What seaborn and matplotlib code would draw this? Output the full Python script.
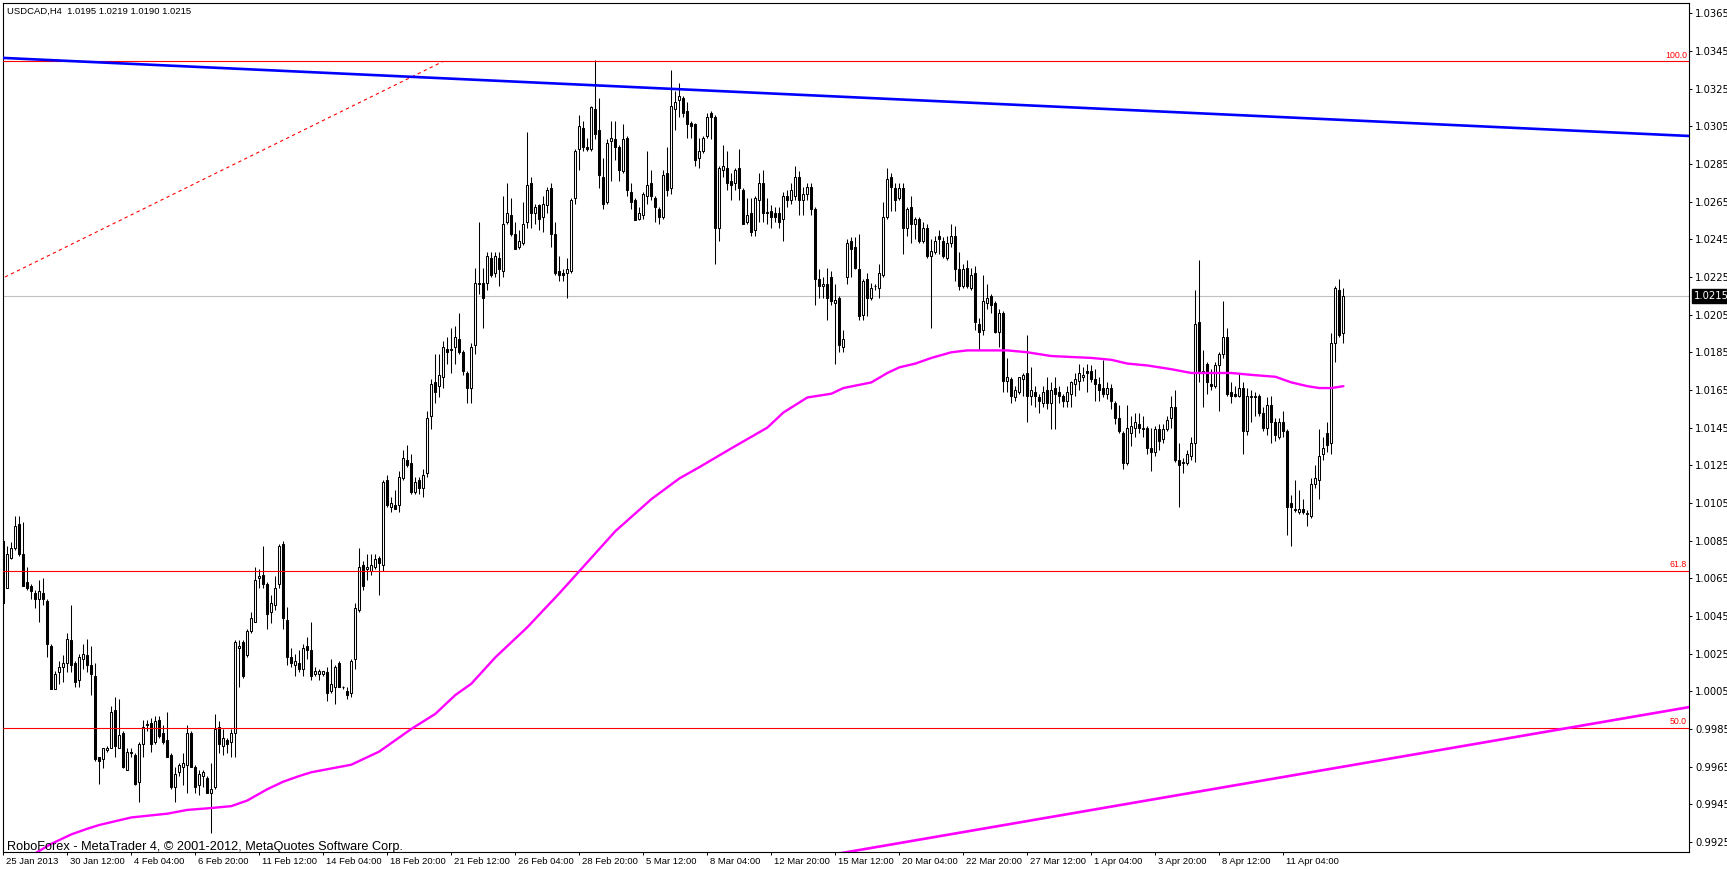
import numpy as np
import pandas as pd
import matplotlib
matplotlib.use("Agg")
import matplotlib.pyplot as plt
import matplotlib.transforms as mtransforms
import seaborn as sns

sns.set_style("white")
plt.rcParams['font.family'] = ['DejaVu Sans']

title = "USDCAD,H4  1.0195 1.0219 1.0190 1.0215"
footer = "RoboForex - MetaTrader 4, \u00a9 2001-2012, MetaQuotes Software Corp."

# H4 bars, quotes in pips above 1.0000
open_pips = [
    85, 60, 76, 81, 94, 78, 63, 61, 57, 54, 57, 53,
    29, 6, 15, 18, 20, 32, 20, 11, 22, 24, 19, 13,
    -30, -31, -26, -25, -5, -25, -17, -37, -27, -29, -43, -23,
    -13, -12, -22, -10, -17, -21, -29, -46, -38, -35, -34, -17,
    -35, -45, -40, -41, -49, -46, -14, -24, -21, -22, -17, 28,
    31, 24, 37, 42, 65, 67, 62, 47, 51, 62, 83, 43,
    23, 19, 20, 17, 29, 27, 14, 14, 14, 15, 5, 7,
    20, 7, 5, 4, 22, 48, 72, 70, 69, 71, 76, 72,
    117, 103, 104, 104, 118, 128, 126, 111, 117, 113, 121, 151,
    169, 167, 172, 187, 186, 188, 192, 185, 174, 166, 189, 222,
    222, 222, 235, 227, 235, 228, 254, 258, 248, 241, 243, 254,
    275, 259, 263, 257, 263, 272, 248, 228, 227, 227, 228, 267,
    293, 304, 294, 293, 314, 303, 278, 265, 297, 298, 294, 281,
    299, 270, 266, 256, 258, 268, 275, 267, 261, 257, 280, 272,
    314, 319, 320, 313, 307, 306, 288, 292, 300, 312, 310, 251,
    282, 283, 276, 275, 283, 271, 254, 259, 250, 266, 275, 259,
    260, 259, 259, 256, 268, 266, 268, 278, 266, 269, 273, 261,
    224, 220, 221, 225, 211, 214, 188, 225, 244, 241, 229, 205,
    224, 214, 220, 219, 226, 257, 278, 272, 267, 272, 251, 262,
    253, 256, 244, 251, 236, 238, 247, 244, 235, 243, 247, 229,
    220, 230, 219, 227, 200, 197, 211, 215, 211, 196, 206, 170,
    171, 161, 164, 171, 174, 162, 164, 161, 158, 165, 158, 166,
    164, 162, 159, 163, 168, 170, 172, 175, 175, 171, 168, 166,
    163, 166, 158, 150, 142, 126, 142, 145, 147, 144, 145, 134,
    132, 144, 139, 144, 150, 156, 128, 126, 126, 130, 137, 201,
    174, 179, 168, 167, 178, 184, 193, 164, 163, 162, 166, 143,
    161, 161, 162, 153, 145, 157, 148, 140, 148, 143, 105, 102,
    100, 102, 99, 98, 115, 117, 131, 142, 137, 190, 218, 195,
]
high_pips = [
    86, 82, 84, 98, 98, 95, 71, 62, 59, 64, 65, 54,
    30, 16, 21, 24, 36, 51, 21, 25, 30, 33, 29, 20,
    -30, -25, -24, -3, 2, 1, -16, -25, -25, -28, -22, -10,
    -10, -9, -8, -8, -13, -6, -28, -35, -33, -28, -13, -16,
    -34, -37, -37, -40, -33, -7, -11, -15, -20, -15, 32, 32,
    32, 38, 47, 71, 70, 82, 63, 56, 66, 83, 85, 50,
    28, 25, 27, 30, 34, 42, 18, 17, 16, 18, 22, 19,
    21, 8, 7, 22, 52, 81, 74, 78, 78, 78, 77, 117,
    120, 108, 112, 122, 133, 136, 131, 119, 119, 123, 154, 171,
    184, 184, 191, 193, 198, 199, 206, 186, 175, 190, 230, 254,
    230, 238, 238, 238, 238, 268, 275, 267, 254, 250, 265, 302,
    278, 264, 264, 268, 273, 275, 254, 236, 229, 235, 267, 293,
    311, 308, 299, 316, 340, 320, 288, 298, 308, 308, 295, 306,
    300, 275, 267, 262, 270, 292, 282, 268, 262, 282, 294, 335,
    324, 328, 321, 318, 308, 307, 299, 300, 312, 313, 311, 284,
    295, 292, 280, 283, 293, 272, 267, 267, 268, 280, 282, 267,
    263, 262, 262, 270, 271, 275, 284, 281, 273, 275, 275, 262,
    229, 225, 230, 228, 221, 215, 197, 245, 246, 246, 248, 224,
    227, 222, 221, 232, 265, 283, 280, 275, 275, 275, 262, 268,
    257, 257, 254, 253, 245, 247, 250, 246, 247, 253, 252, 238,
    232, 234, 230, 231, 203, 226, 221, 216, 212, 208, 207, 182,
    172, 167, 172, 174, 194, 177, 167, 163, 167, 172, 169, 172,
    167, 163, 167, 170, 174, 179, 177, 179, 178, 176, 172, 181,
    169, 168, 159, 157, 143, 157, 151, 153, 153, 151, 146, 145,
    146, 147, 147, 151, 162, 165, 137, 129, 133, 140, 218, 234,
    186, 180, 176, 180, 185, 212, 198, 169, 167, 174, 169, 166,
    165, 164, 163, 156, 161, 162, 150, 150, 154, 144, 109, 117,
    112, 107, 101, 118, 125, 144, 140, 148, 195, 220, 224, 219,
]
low_pips = [
    51, 60, 75, 80, 77, 61, 59, 54, 49, 42, 51, 23,
    6, 6, 9, 10, 15, 15, 7, 7, 17, 15, 3, -32,
    -44, -36, -27, -25, -30, -25, -36, -37, -30, -45, -54, -30,
    -16, -27, -23, -20, -23, -30, -47, -54, -40, -45, -49, -35,
    -49, -50, -46, -49, -70, -47, -28, -29, -28, -30, -30, 7,
    12, 23, 36, 42, 60, 60, 38, 41, 48, 60, 38, 19,
    18, 13, 15, 13, 22, 11, 13, 11, 13, 0, 4, -2,
    7, 6, 1, 2, 17, 47, 59, 64, 67, 70, 56, 69,
    103, 100, 102, 100, 117, 124, 110, 110, 110, 108, 119, 144,
    158, 161, 166, 179, 174, 179, 184, 173, 158, 158, 184, 216,
    198, 218, 225, 225, 220, 225, 253, 247, 240, 240, 242, 251,
    251, 253, 250, 249, 259, 241, 226, 223, 223, 214, 227, 264,
    282, 292, 292, 292, 298, 272, 261, 264, 276, 287, 276, 280,
    268, 261, 255, 255, 256, 264, 266, 254, 253, 256, 268, 269,
    303, 310, 310, 299, 299, 284, 283, 291, 299, 298, 232, 244,
    278, 271, 266, 271, 266, 253, 253, 247, 247, 254, 254, 253,
    251, 254, 251, 244, 262, 264, 266, 258, 258, 266, 258, 210,
    214, 214, 202, 210, 179, 185, 185, 221, 225, 229, 202, 202,
    204, 213, 218, 214, 225, 256, 260, 260, 266, 237, 247, 243,
    245, 243, 243, 235, 198, 237, 237, 235, 234, 241, 223, 218,
    219, 219, 218, 197, 186, 194, 208, 206, 195, 188, 164, 164,
    158, 159, 163, 162, 148, 157, 156, 153, 156, 155, 144, 144,
    158, 156, 156, 156, 162, 165, 170, 164, 169, 159, 159, 161,
    160, 155, 147, 142, 123, 125, 135, 140, 142, 140, 131, 122,
    130, 133, 137, 143, 145, 127, 103, 121, 125, 128, 127, 169,
    156, 163, 165, 166, 154, 182, 162, 158, 161, 161, 131, 141,
    148, 151, 151, 143, 141, 137, 138, 139, 140, 88, 82, 100,
    99, 99, 93, 97, 113, 107, 128, 132, 131, 180, 193, 190,
]
close_pips = [
    52, 78, 81, 93, 78, 61, 60, 58, 54, 58, 54, 30,
    6, 14, 18, 20, 33, 19, 10, 23, 25, 19, 14, -31,
    -32, -25, -25, -6, -24, -18, -35, -27, -28, -44, -23, -14,
    -13, -23, -11, -19, -22, -30, -46, -39, -34, -33, -17, -35,
    -46, -39, -38, -49, -47, -15, -23, -20, -23, -17, 31, 29,
    13, 37, 44, 64, 66, 62, 46, 52, 60, 82, 44, 23,
    20, 21, 17, 28, 27, 13, 16, 16, 16, 4, 9, 18,
    7, 7, 3, 21, 49, 71, 61, 71, 72, 75, 73, 116,
    104, 105, 102, 119, 129, 125, 111, 116, 113, 120, 150, 168,
    164, 173, 188, 185, 187, 193, 185, 175, 166, 188, 222, 221,
    214, 236, 226, 236, 229, 253, 259, 248, 240, 244, 253, 274,
    259, 262, 256, 264, 271, 248, 227, 226, 226, 229, 266, 292,
    305, 294, 293, 315, 301, 279, 264, 296, 299, 294, 282, 298,
    271, 265, 255, 259, 269, 274, 268, 262, 257, 279, 271, 316,
    318, 321, 312, 306, 305, 287, 292, 299, 310, 310, 251, 283,
    284, 275, 274, 282, 272, 253, 258, 249, 267, 275, 259, 259,
    257, 257, 254, 268, 266, 271, 278, 266, 269, 273, 261, 224,
    220, 221, 214, 212, 213, 189, 192, 243, 240, 230, 204, 223,
    214, 219, 220, 227, 257, 277, 273, 266, 272, 251, 261, 253,
    256, 244, 251, 236, 239, 244, 245, 236, 243, 247, 229, 220,
    229, 220, 226, 201, 196, 212, 214, 210, 196, 206, 170, 172,
    162, 165, 172, 173, 162, 165, 162, 159, 164, 158, 165, 163,
    162, 159, 164, 169, 171, 174, 173, 174, 171, 168, 165, 163,
    166, 159, 150, 143, 126, 145, 146, 148, 145, 145, 134, 132,
    144, 138, 144, 149, 156, 128, 125, 127, 131, 137, 200, 175,
    175, 169, 167, 178, 184, 193, 163, 162, 162, 166, 143, 162,
    162, 162, 153, 145, 157, 148, 141, 148, 143, 103, 103, 101,
    102, 100, 99, 115, 118, 130, 134, 136, 190, 219, 194, 215,
]

# time axis: one label every 16 bars
time_labels = ["25 Jan 2013", "30 Jan 12:00", "4 Feb 04:00", "6 Feb 20:00",
               "11 Feb 12:00", "14 Feb 04:00", "18 Feb 20:00", "21 Feb 12:00",
               "26 Feb 04:00", "28 Feb 20:00", "5 Mar 12:00", "8 Mar 04:00",
               "12 Mar 20:00", "15 Mar 12:00", "20 Mar 04:00", "22 Mar 20:00",
               "27 Mar 12:00", "1 Apr 04:00", "3 Apr 20:00", "8 Apr 12:00",
               "11 Apr 04:00"]
bars_per_label = 16

# moving average (magenta), read at these bars
ma_bars = [4, 12, 17, 21, 24, 32, 41, 46, 52, 57, 61, 66, 70, 74, 77, 87, 94,
           102, 108, 113, 117, 123, 131, 139, 153, 162, 169, 174, 182, 191,
           195, 201, 207, 210, 217, 221, 224, 228, 232, 237, 241, 247, 251,
           256, 262, 272, 277, 281, 286, 292, 297, 301, 307, 312, 318, 322,
           326, 329, 332, 335]
ma_pips = [-86, -76, -71, -68, -66, -62, -60, -58, -57, -56, -53, -47, -43,
           -40, -38, -34, -27, -15, -7, 3, 9, 23, 39, 57, 90, 107, 118, 124,
           134, 145, 153, 161, 163, 166, 169, 174, 177, 179, 182, 185, 186,
           186, 186, 185, 183, 182, 181, 179, 178, 176, 174, 174, 174, 173,
           172, 169, 167, 166, 166, 167]

# drawn objects
blue_bars = [-1, 422]
blue_price = [1.03414, 1.02998]
pink_bars = [200, 422]
pink_price = [0.99156, 0.99968]
fib_bars = [-567, 110]
fib_price = [0.96319, 1.03395]
fib_names = ["100.0", "61.8", "50.0"]
fib_levels = [1.03395, 1.00690, 0.99857]
bid = 1.0215
price_ticks = [0.9925, 0.9945, 0.9965, 0.9985, 1.0005, 1.0025, 1.0045, 1.0065,
               1.0085, 1.0105, 1.0125, 1.0145, 1.0165, 1.0185, 1.0205, 1.0225,
               1.0245, 1.0265, 1.0285, 1.0305, 1.0325, 1.0345, 1.0365]

df = pd.DataFrame({
    'bar': np.arange(len(close_pips)),
    'open': 1 + np.array(open_pips) / 10000,
    'high': 1 + np.array(high_pips) / 10000,
    'low': 1 + np.array(low_pips) / 10000,
    'close': 1 + np.array(close_pips) / 10000,
})
ma = pd.DataFrame({'bar': ma_bars, 'price': 1 + np.array(ma_pips) / 10000})

W, H = 1727, 869
fig = plt.figure(figsize=(W / 100, H / 100), dpi=100)
ax = fig.add_axes([2.5 / W, 1 - 852 / H, (1689 - 2.5) / W, (852 - 2.5) / H])
ax.set_xlim(-0.2, 421.4)
ax.set_ylim(0.991965, 1.037073)

# candles
up = df['close'] >= df['open']
body_low = np.minimum(df['open'], df['close'])
body_h = np.maximum((df['close'] - df['open']).abs(), 0.00004)
ax.vlines(df['bar'], df['low'], df['high'], color='black', lw=0.75, zorder=2)
ax.bar(df['bar'][up], body_h[up], bottom=body_low[up], width=0.5,
       facecolor='white', edgecolor='black', lw=0.75, zorder=3)
ax.bar(df['bar'][~up], body_h[~up], bottom=body_low[~up], width=0.5,
       facecolor='black', edgecolor='black', lw=0.75, zorder=3)

# bid line
ax.axhline(bid, color='#c0c0c0', lw=0.8, zorder=1)

# fibonacci
ax.plot(fib_bars, fib_price, color='red', lw=0.8, ls=(0, (3, 3)), zorder=4)
ytrans = mtransforms.blended_transform_factory(ax.transAxes, ax.transData)
for name, lvl in zip(fib_names, fib_levels):
    ax.axhline(lvl, color='red', lw=0.8, zorder=4)
    ax.text(1.0, lvl, name, transform=ytrans + mtransforms.ScaledTranslation(-0.02, 0.015, fig.dpi_scale_trans),
            ha='right', va='bottom', color='red', fontsize=6.3, family='Liberation Sans')

# trend lines and moving average
ax.plot(blue_bars, blue_price, color='#0000ff', lw=1.9, zorder=5)
ax.plot(pink_bars, pink_price, color='#ff00ff', lw=1.9, zorder=5)
sns.lineplot(data=ma, x='bar', y='price', color='#ff00ff', lw=1.7, ax=ax,
             estimator=None, sort=True, zorder=5)

# axes styling
for s in ax.spines.values():
    s.set_color('black')
    s.set_linewidth(0.8)
ax.set_xlabel('')
ax.set_ylabel('')
ax.yaxis.tick_right()
ax.set_yticks(price_ticks)
ax.set_yticklabels([f"{p:.4f}" for p in price_ticks])
ax.tick_params(axis='y', direction='out', length=2.5, width=0.7, pad=1.8,
               labelsize=7.2, colors='black', right=True, left=False)
ax.set_xticks(np.arange(len(time_labels)) * bars_per_label)
ax.set_xticklabels(time_labels, ha='left')
ax.tick_params(axis='x', direction='out', length=2.5, width=0.7, pad=1.0,
               labelsize=6.8, colors='black', bottom=True)
shift = mtransforms.ScaledTranslation(0.03, 0, fig.dpi_scale_trans)
for lab in ax.get_xticklabels():
    lab.set_family('Liberation Sans')
    lab.set_transform(lab.get_transform() + shift)

# current price box
ax.text(1.0, bid, f"{bid:.4f}", transform=ytrans + mtransforms.ScaledTranslation(0.045, 0, fig.dpi_scale_trans),
        ha='left', va='center', color='white', fontsize=7.2,
        bbox=dict(boxstyle='square,pad=0.2', facecolor='black', edgecolor='black'))

fig.text(7 / W, 1 - 14 / H, title, ha='left', va='baseline', fontsize=6.8,
         family='Liberation Sans', color='black')
fig.text(7 / W, 1 - 850 / H, footer, ha='left', va='baseline', fontsize=9.2,
         family='Liberation Sans', color='black')

fig.savefig('out.png', dpi=100, facecolor='white')
